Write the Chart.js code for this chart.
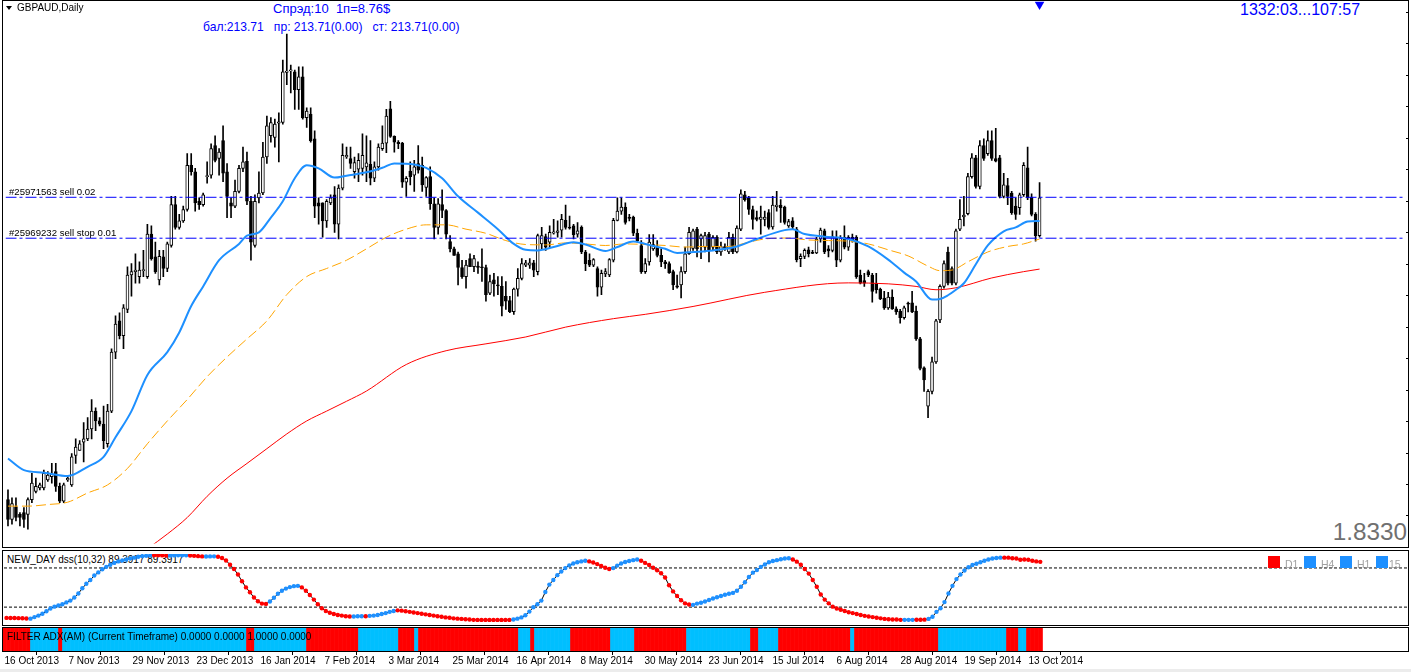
<!DOCTYPE html>
<html><head><meta charset="utf-8">
<script src="https://cdn.jsdelivr.net/npm/chart.js@4.4.1/dist/chart.umd.min.js"></script>
<style>
html,body{margin:0;padding:0;background:#fff;}
#wrap{position:relative;width:1411px;height:672px;overflow:hidden;background:#fff;font-family:"Liberation Sans",Arial,sans-serif;}
canvas{position:absolute;left:0;}
.t{position:absolute;white-space:pre;line-height:1;}
.b{z-index:0}.f{z-index:2}
.sq{position:absolute;width:12px;height:12px;z-index:2}
</style></head><body>
<div id="wrap">
  <div class="t b" style="left:273px;top:1.7px;font-size:13px;color:#0000ff">Спрэд:10  1п=8.76$</div>
  <div class="t b" style="left:203px;top:21.4px;font-size:12.1px;color:#0000ff">бал:213.71   пр: 213.71(0.00)   ст: 213.71(0.00)</div>
  <div class="t b" style="left:1240px;top:1.5px;font-size:16px;color:#0000ff">1332:03...107:57</div>
  <div class="t b" style="right:4px;top:520.4px;font-size:24.3px;color:#707070">1.8330</div>
  <div class="t b" style="left:7px;top:554.8px;font-size:10px;color:#000">NEW_DAY dss(10,32) 89.3917 89.3917</div>

  <canvas id="cMain" width="1411" height="549" style="top:0;z-index:1"></canvas>
  <canvas id="cDss" width="1411" height="76" style="top:550px;z-index:1"></canvas>
  <canvas id="cAdx" width="1411" height="46" style="top:626px;z-index:1"></canvas>

  <div style="position:absolute;left:6px;top:6px;width:0;height:0;border-left:3px solid transparent;border-right:3px solid transparent;border-top:4px solid #000;z-index:2"></div>
  <div class="t f" style="left:17px;top:2.8px;font-size:10px;color:#000">GBPAUD,Daily</div>
  <div class="t f" style="left:9px;top:186.6px;font-size:9.6px;color:#000">#25971563 sell 0.02</div>
  <div class="t f" style="left:9px;top:227.6px;font-size:9.6px;color:#000">#25969232 sell stop 0.01</div>
  <div class="t f" style="left:7px;top:631.5px;font-size:10px;color:#000">FILTER ADX(AM) (Current Timeframe) 0.0000 0.0000 1.0000 0.0000</div>
  <div class="sq" style="left:1268px;top:556px;background:#ff0000"></div>
  <div class="sq" style="left:1304px;top:556px;background:#1e90ff"></div>
  <div class="sq" style="left:1340px;top:556px;background:#1e90ff"></div>
  <div class="sq" style="left:1376px;top:556px;background:#1e90ff"></div>
  <div class="t f" style="left:1285px;top:559.4px;font-size:10.5px;color:#a0a0a0">D1</div>
  <div class="t f" style="left:1321px;top:559.4px;font-size:10.5px;color:#a0a0a0">H4</div>
  <div class="t f" style="left:1357px;top:559.4px;font-size:10.5px;color:#a0a0a0">H1</div>
  <div class="t f" style="left:1389px;top:559.4px;font-size:10.5px;color:#a0a0a0">15</div>
  <div style="position:absolute;left:0;top:669px;width:1411px;height:3px;background:#ececec;z-index:2"></div>
</div>
<script>
// ---------------- DATA (GBPAUD daily, 16 Oct 2013 .. 16 Oct 2014) ----------------
const tickIdx = [0,16,32,48,64,80,96,112,128,144,160,176,192,208,224,240,256];
const tickLabels = ['16 Oct 2013','7 Nov 2013','29 Nov 2013','23 Dec 2013','16 Jan 2014','7 Feb 2014','3 Mar 2014','25 Mar 2014','16 Apr 2014','8 May 2014','30 May 2014','23 Jun 2014','15 Jul 2014','6 Aug 2014','28 Aug 2014','19 Sep 2014','13 Oct 2014'];

const open = [
1.6883,1.6783,1.6847,1.6808,1.6817,1.6808,1.6883,1.6925,1.6942,1.6942,
1.6983,1.7000,1.7025,1.6950,1.6875,1.6983,1.6958,1.7108,1.7133,1.7175,
1.7192,1.7242,1.7333,1.7283,1.7267,1.7167,1.7333,1.7633,1.7792,1.7717,
1.7850,1.8025,1.8042,1.8017,1.8047,1.8017,1.8233,1.8117,1.8000,1.8117,
1.8058,1.8175,1.8383,1.8267,1.8300,1.8358,1.8583,1.8550,1.8400,1.8383,
1.8525,1.8533,1.8683,1.8617,1.8708,1.8550,1.8392,1.8375,1.8450,1.8567,
1.8603,1.8400,1.8175,1.8417,1.8442,1.8625,1.8733,1.8725,1.8797,1.8800,
1.9055,1.9063,1.9058,1.8967,1.9033,1.8825,1.8842,1.8717,1.8392,1.8392,
1.8300,1.8392,1.8433,1.8283,1.8467,1.8625,1.8617,1.8550,1.8563,1.8567,
1.8575,1.8587,1.8517,1.8575,1.8667,1.8695,1.8870,1.8730,1.8700,1.8695,
1.8497,1.8553,1.8533,1.8592,1.8583,1.8470,1.8525,1.8387,1.8267,1.8383,
1.8353,1.8195,1.8158,1.8133,1.8063,1.8017,1.8108,1.8067,1.8070,1.8067,
1.8063,1.7933,1.8000,1.7975,1.7967,1.7917,1.7895,1.7838,1.7953,1.8008,
1.8075,1.8075,1.8087,1.8042,1.8183,1.8220,1.8192,1.8238,1.8242,1.8253,
1.8303,1.8267,1.8275,1.8233,1.8267,1.8142,1.8100,1.8075,1.8058,1.7963,
1.8030,1.8025,1.8100,1.8303,1.8350,1.8370,1.8317,1.8320,1.8237,1.8175,
1.8042,1.8092,1.8158,1.8167,1.8125,1.8092,1.8083,1.8042,1.7970,1.7975,
1.8042,1.8133,1.8160,1.8258,1.8208,1.8167,1.8233,1.8167,1.8217,1.8142,
1.8170,1.8142,1.8217,1.8142,1.8258,1.8433,1.8417,1.8358,1.8317,1.8308,
1.8308,1.8342,1.8270,1.8372,1.8380,1.8370,1.8275,1.8300,1.8258,1.8108,
1.8120,1.8153,1.8137,1.8137,1.8208,1.8250,1.8158,1.8150,1.8217,1.8100,
1.8217,1.8167,1.8217,1.8217,1.8025,1.7997,1.8042,1.8025,1.7983,1.7953,
1.7908,1.7858,1.7913,1.7853,1.7842,1.7808,1.7880,1.7883,1.7842,1.7700,
1.7553,1.7358,1.7433,1.7583,1.7797,1.7967,1.8142,1.8058,1.7983,1.8258,
1.8320,1.8337,1.8525,1.8620,1.8475,1.8683,1.8642,1.8708,1.8617,1.8620,
1.8425,1.8480,1.8442,1.8375,1.8367,1.8433,1.8570,1.8420,1.8333,1.8225];

const high = [
1.6933,1.6892,1.6892,1.6817,1.6842,1.6892,1.7017,1.6992,1.6967,1.7033,
1.7025,1.7067,1.7067,1.6967,1.6967,1.7000,1.7117,1.7192,1.7183,1.7275,
1.7300,1.7392,1.7350,1.7300,1.7358,1.7367,1.7650,1.7817,1.7833,1.7875,
1.8067,1.8083,1.8133,1.8092,1.8150,1.8283,1.8275,1.8192,1.8150,1.8150,
1.8192,1.8425,1.8425,1.8333,1.8375,1.8642,1.8642,1.8567,1.8417,1.8442,
1.8600,1.8692,1.8733,1.8667,1.8783,1.8592,1.8417,1.8508,1.8583,1.8675,
1.8650,1.8425,1.8433,1.8550,1.8700,1.8833,1.8825,1.8817,1.8850,1.9117,
1.9250,1.9092,1.9067,1.9083,1.9083,1.8875,1.8875,1.8758,1.8417,1.8392,
1.8408,1.8433,1.8475,1.8483,1.8692,1.8675,1.8675,1.8625,1.8642,1.8742,
1.8733,1.8708,1.8600,1.8692,1.8783,1.8867,1.8908,1.8733,1.8708,1.8700,
1.8525,1.8600,1.8608,1.8683,1.8625,1.8525,1.8575,1.8417,1.8413,1.8458,
1.8358,1.8225,1.8167,1.8142,1.8100,1.8100,1.8133,1.8125,1.8092,1.8158,
1.8075,1.8025,1.8033,1.8017,1.8017,1.7992,1.7917,1.7958,1.8058,1.8108,
1.8100,1.8108,1.8100,1.8233,1.8267,1.8233,1.8275,1.8308,1.8300,1.8333,
1.8380,1.8325,1.8283,1.8292,1.8275,1.8150,1.8133,1.8108,1.8067,1.8050,
1.8058,1.8108,1.8313,1.8417,1.8417,1.8392,1.8333,1.8325,1.8258,1.8200,
1.8108,1.8230,1.8230,1.8200,1.8158,1.8100,1.8092,1.8050,1.8025,1.8067,
1.8167,1.8267,1.8258,1.8267,1.8233,1.8242,1.8242,1.8225,1.8225,1.8192,
1.8183,1.8242,1.8233,1.8275,1.8458,1.8450,1.8425,1.8375,1.8350,1.8375,
1.8350,1.8358,1.8425,1.8450,1.8408,1.8375,1.8308,1.8317,1.8267,1.8133,
1.8158,1.8167,1.8150,1.8217,1.8263,1.8258,1.8175,1.8250,1.8250,1.8225,
1.8275,1.8225,1.8233,1.8225,1.8050,1.8033,1.8050,1.8033,1.8033,1.7958,
1.7942,1.7937,1.7950,1.7863,1.7850,1.7867,1.7887,1.7942,1.7867,1.7708,
1.7558,1.7442,1.7608,1.7800,1.7975,1.8097,1.8167,1.8067,1.8258,1.8408,
1.8425,1.8542,1.8642,1.8633,1.8708,1.8717,1.8758,1.8758,1.8770,1.8633,
1.8542,1.8517,1.8450,1.8417,1.8442,1.8597,1.8675,1.8437,1.8342,1.8495];

const low = [
1.6750,1.6758,1.6775,1.6750,1.6742,1.6733,1.6867,1.6917,1.6933,1.6933,
1.6975,1.6967,1.6925,1.6867,1.6867,1.6975,1.6950,1.7067,1.7133,1.7075,
1.7183,1.7192,1.7233,1.7258,1.7142,1.7150,1.7325,1.7600,1.7700,1.7650,
1.7833,1.7917,1.7983,1.7983,1.8017,1.8008,1.8100,1.8033,1.7975,1.8017,
1.8042,1.8167,1.8258,1.8258,1.8292,1.8350,1.8533,1.8350,1.8358,1.8375,
1.8492,1.8517,1.8600,1.8533,1.8500,1.8317,1.8317,1.8367,1.8442,1.8550,
1.8383,1.8100,1.8167,1.8392,1.8433,1.8592,1.8700,1.8675,1.8600,1.8792,
1.8992,1.8950,1.8867,1.8867,1.8817,1.8775,1.8700,1.8317,1.8283,1.8217,
1.8267,1.8383,1.8242,1.8208,1.8458,1.8617,1.8567,1.8517,1.8500,1.8533,
1.8500,1.8483,1.8500,1.8558,1.8658,1.8647,1.8725,1.8650,1.8667,1.8470,
1.8425,1.8483,1.8450,1.8542,1.8450,1.8425,1.8358,1.8208,1.8233,1.8317,
1.8208,1.8142,1.8125,1.7975,1.8008,1.7958,1.8067,1.8042,1.8033,1.7992,
1.7892,1.7925,1.7917,1.7925,1.7817,1.7850,1.7833,1.7825,1.7917,1.8000,
1.8067,1.8058,1.8017,1.8025,1.8158,1.8150,1.8167,1.8233,1.8217,1.8217,
1.8258,1.8258,1.8208,1.8217,1.8133,1.8047,1.8067,1.8067,1.7917,1.7925,
1.8017,1.8017,1.8092,1.8300,1.8333,1.8283,1.8300,1.8225,1.8192,1.8033,
1.8033,1.8075,1.8150,1.8117,1.8067,1.8058,1.8033,1.7950,1.7958,1.7908,
1.8033,1.8130,1.8150,1.8117,1.8108,1.8142,1.8092,1.8150,1.8133,1.8125,
1.8150,1.8133,1.8133,1.8137,1.8250,1.8400,1.8333,1.8258,1.8300,1.8233,
1.8275,1.8258,1.8258,1.8350,1.8292,1.8283,1.8267,1.8258,1.8092,1.8067,
1.8108,1.8117,1.8133,1.8133,1.8192,1.8133,1.8117,1.8142,1.8067,1.8092,
1.8158,1.8150,1.8192,1.8008,1.7980,1.7967,1.8017,1.7887,1.7933,1.7900,
1.7850,1.7850,1.7850,1.7825,1.7780,1.7800,1.7837,1.7833,1.7692,1.7542,
1.7433,1.7300,1.7420,1.7575,1.7783,1.7958,1.7975,1.7975,1.7975,1.8250,
1.8275,1.8330,1.8517,1.8467,1.8463,1.8608,1.8633,1.8608,1.8600,1.8417,
1.8417,1.8383,1.8333,1.8308,1.8333,1.8425,1.8408,1.8325,1.8197,1.8217];

const close = [
1.6783,1.6863,1.6792,1.6792,1.6783,1.6883,1.6967,1.6950,1.6958,1.7017,
1.7008,1.7013,1.6950,1.6875,1.6958,1.6992,1.7100,1.7150,1.7167,1.7192,
1.7242,1.7333,1.7283,1.7267,1.7183,1.7333,1.7633,1.7775,1.7717,1.7858,
1.8025,1.8042,1.8050,1.8050,1.8053,1.8233,1.8108,1.8042,1.8120,1.8058,
1.8183,1.8383,1.8267,1.8300,1.8358,1.8583,1.8550,1.8392,1.8383,1.8433,
1.8530,1.8667,1.8608,1.8650,1.8542,1.8425,1.8375,1.8450,1.8567,1.8600,
1.8400,1.8192,1.8400,1.8442,1.8625,1.8783,1.8800,1.8792,1.8803,1.9058,
1.9062,1.9067,1.8967,1.9033,1.8825,1.8858,1.8708,1.8375,1.8375,1.8300,
1.8400,1.8417,1.8283,1.8467,1.8633,1.8633,1.8592,1.8597,1.8608,1.8633,
1.8595,1.8517,1.8575,1.8675,1.8695,1.8833,1.8730,1.8700,1.8692,1.8497,
1.8517,1.8525,1.8575,1.8558,1.8483,1.8520,1.8387,1.8267,1.8387,1.8353,
1.8233,1.8158,1.8125,1.8063,1.8017,1.8075,1.8067,1.8108,1.8063,1.8062,
1.7925,1.7992,1.7980,1.7970,1.7867,1.7892,1.7838,1.7953,1.8008,1.8083,
1.8087,1.8087,1.8050,1.8225,1.8225,1.8167,1.8242,1.8245,1.8250,1.8308,
1.8267,1.8263,1.8230,1.8250,1.8142,1.8083,1.8075,1.8103,1.7963,1.8033,
1.8042,1.8103,1.8303,1.8350,1.8370,1.8292,1.8313,1.8237,1.8200,1.8042,
1.8083,1.8192,1.8180,1.8125,1.8092,1.8083,1.8037,1.7975,1.7963,1.8042,
1.8133,1.8242,1.8250,1.8158,1.8225,1.8225,1.8150,1.8217,1.8142,1.8170,
1.8158,1.8217,1.8142,1.8263,1.8438,1.8408,1.8358,1.8308,1.8308,1.8320,
1.8320,1.8267,1.8380,1.8380,1.8367,1.8292,1.8297,1.8270,1.8103,1.8120,
1.8150,1.8133,1.8135,1.8208,1.8253,1.8142,1.8147,1.8220,1.8100,1.8217,
1.8167,1.8217,1.8200,1.8017,1.7983,1.7983,1.8025,1.7942,1.7950,1.7903,
1.7858,1.7913,1.7853,1.7837,1.7808,1.7858,1.7877,1.7837,1.7700,1.7550,
1.7492,1.7433,1.7583,1.7792,1.7967,1.8083,1.7983,1.7983,1.8250,1.8308,
1.8330,1.8525,1.8620,1.8475,1.8683,1.8617,1.8708,1.8617,1.8603,1.8425,
1.8483,1.8425,1.8342,1.8333,1.8433,1.8583,1.8417,1.8333,1.8225,1.8417];

// moving averages read at sample bars: [bar index, price]
const maFast = [[0,1.7092],[4,1.7033],[9,1.7020],[15,1.7003],[20,1.7050],[24,1.7100],[27,1.7200],[31,1.7333],[35,1.7517],[40,1.7633],[43,1.7733],[46,1.7867],[49,1.7967],[53,1.8100],[58,1.8183],[60,1.8225],[63,1.8242],[66,1.8317],[69,1.8400],[72,1.8517],[75,1.8583],[78,1.8567],[82,1.8520],[85,1.8530],[90,1.8547],[94,1.8570],[97,1.8592],[102,1.8587],[105,1.8570],[109,1.8517],[113,1.8425],[118,1.8342],[123,1.8258],[127,1.8183],[130,1.8153],[133,1.8150],[137,1.8167],[142,1.8192],[145,1.8180],[150,1.8147],[153,1.8167],[157,1.8195],[160,1.8183],[165,1.8158],[168,1.8137],[172,1.8142],[177,1.8150],[183,1.8170],[188,1.8208],[195,1.8253],[197,1.8257],[200,1.8233],[205,1.8220],[211,1.8208],[216,1.8170],[221,1.8103],[225,1.8037],[228,1.7992],[232,1.7900],[234,1.7903],[236,1.7922],[238,1.7950],[240,1.7983],[243,1.8080],[246,1.8175],[250,1.8247],[253,1.8267],[256,1.8297],[259,1.8300]];
const maMid = [[0,1.6850],[5,1.6850],[10,1.6858],[15,1.6870],[20,1.6917],[25,1.6958],[30,1.7042],[35,1.7167],[40,1.7283],[45,1.7392],[50,1.7508],[55,1.7608],[60,1.7700],[65,1.7792],[70,1.7925],[75,1.8017],[80,1.8058],[85,1.8100],[90,1.8158],[95,1.8217],[100,1.8258],[105,1.8280],[110,1.8280],[115,1.8258],[120,1.8237],[125,1.8200],[130,1.8180],[135,1.8178],[140,1.8188],[145,1.8183],[150,1.8175],[155,1.8183],[160,1.8180],[165,1.8175],[170,1.8167],[175,1.8170],[181,1.8170],[186,1.8192],[190,1.8208],[196,1.8213],[201,1.8203],[206,1.8200],[211,1.8197],[216,1.8183],[221,1.8153],[226,1.8122],[231,1.8070],[234,1.8047],[237,1.8050],[241,1.8092],[246,1.8142],[251,1.8170],[255,1.8183],[259,1.8208]];
const maSlow = [[35,1.6633],[40,1.6708],[45,1.6792],[50,1.6900],[55,1.6992],[60,1.7067],[65,1.7142],[70,1.7217],[75,1.7283],[80,1.7333],[85,1.7383],[90,1.7435],[100,1.7570],[110,1.7640],[120,1.7675],[130,1.7710],[140,1.7760],[152,1.7803],[160,1.7825],[172,1.7865],[190,1.7937],[211,1.7985],[221,1.7980],[228,1.7967],[233,1.7950],[238,1.7960],[247,1.8010],[255,1.8042],[259,1.8055]];

const orderLevels = [1.8420, 1.8212];
const markerBar = 259, markerPrice = 1.9400;

// DSS(10,32) oscillator, one value per bar
const dss = [
3.5,3.3,3.2,3.1,3.0,2.6,2.3,4.7,7.0,9.9,
13.6,17.8,20.7,22.5,24.4,27.2,30.0,34.7,40.8,48.8,
55.9,61.5,68.5,73.2,78.0,81.7,85.0,87.8,90.1,91.5,
93.0,94.4,95.8,97.2,98.1,98.6,99.1,99.5,99.5,99.3,
99.0,99.1,99.3,99.5,99.5,99.6,99.1,98.6,98.1,97.7,
97.5,97.7,97.8,97.2,95.3,91.5,85.0,78.4,70.0,59.6,
50.2,42.7,34.7,29.1,25.4,24.9,28.6,34.3,40.4,45.1,
48.4,50.7,52.1,52.6,50.2,45.1,38.5,31.5,24.4,18.3,
14.1,11.3,9.4,8.0,7.0,6.1,5.6,5.6,6.1,6.1,
6.1,6.6,7.0,8.0,9.4,10.8,12.7,14.1,15.0,14.6,
13.6,12.7,11.7,10.8,9.9,8.9,8.0,7.0,6.1,5.2,
4.2,3.8,2.8,2.3,1.9,1.4,0.9,0.5,0.4,0.3,
0.3,0.2,0.2,0.2,0.2,0.3,0.3,0.9,2.3,4.2,
7.5,13.1,19.7,24.4,30.0,43.2,54.5,61.5,69.0,74.6,
79.8,84.0,86.9,88.7,90.1,91.1,90.1,88.3,85.9,83.1,
80.3,78.4,79.8,83.6,86.9,89.2,90.6,92.0,93.0,91.1,
87.8,84.5,80.3,76.5,71.8,65.3,53.5,44.1,37.1,30.5,
25.8,23.9,23.5,25.4,26.8,28.6,31.0,33.3,35.2,37.1,
39.0,40.4,41.8,45.1,51.2,58.2,66.2,72.8,77.0,81.7,
85.4,88.7,90.6,92.0,93.4,94.4,94.8,93.0,89.7,85.0,
78.4,71.4,61.5,51.2,39.4,31.5,25.8,20.7,17.8,16.0,
14.1,12.2,10.8,9.4,8.0,6.6,5.6,4.7,3.8,2.8,
1.9,1.4,0.9,0.9,0.5,0.5,0.5,0.5,0.6,0.6,
0.8,1.9,5.2,12.7,18.3,27.7,40.8,52.6,62.9,70.0,
76.1,81.2,84.5,86.4,88.7,91.1,93.0,94.4,95.3,95.8,
95.8,95.8,94.8,94.4,92.5,93.0,92.5,91.1,90.1,89.39];
const dssLevels = [80, 20];
// DSS direction per bar: R = falling, B = rising
const dssDir =
 'RRRRRR' + 'BBBBBBBBBBBBBBBBBBBBBBBBBBBBBBB' + 'RRRR' + 'BBBBB' + 'RRRR' + 'BBB' +
 'RRRRRRRRRRRRR' + 'BBBBBBBB' + 'RRRRRRRRRRRRR' + 'BBB' + 'R' + 'BBBBBBB' +
 'RRRRRRRRRRRRRRRRRRRRRRRRRRRRR' + 'BBBBBBBBBBBBBBBBBBB' + 'RRRRRR' + 'BBBBBBB' +
 'RRRRRRRRRRRRR' + 'BBBBBBBBBBBBBBBBBBBBBBBBB' + 'RRRRRRRRRRRRRRRRRRRRRRRRRRRR' +
 'BBB' + 'RRR' + 'BBBBBBBBBBBBBBBBBBB' + 'RRRRRRRRRR';
// FILTER ADX state per bar: R / B
const adxState =
 'RRRRRRR' + 'BBBBBBB' + 'R' + 'BBBBBBBBBB'+'BBBBBBBBBB'+'BBBBBBBBBB'+'BBBBBBBBBB'+'BBBBBB' + 'RR' +
 'BBBBBBBBBBBBB' + 'RRRRRRRRRRRRR' + 'BBBBBBBBBB' + 'RRRR' + 'B' + 'RRRRRRRRRRRRRRRRRRRRRRRRR' +
 'BBB' + 'R' + 'BBBBBBBBB' + 'RRRRRRRRRR' + 'BBBBBB' + 'RRRRRRRRRRRRR' + 'BBBBBBBBBBBBBBBB' +
 'RR' + 'BBBBB' + 'RRRRRRRRRRRRRRRRRR' + 'B' + 'RRRRRRRRRRRRRRRRRRRRR' + 'BBBBBBBBBBBBBBBBB' +
 'RRR' + 'BB' + 'RRRR';

// ---------------- CHARTS ----------------
Chart.defaults.font.family = '"Liberation Sans", Arial, sans-serif';
const X_MIN = -0.625, X_MAX = 350.875;
const idx = open.map((_, i) => i);

const framePlugin = {
  id: 'frame',
  afterDraw(chart, args, opts) {
    const c = chart.ctx; c.save(); c.strokeStyle = '#000'; c.lineWidth = 1;
    (opts.rects || []).forEach(r => c.strokeRect(r[0] + 0.5, r[1] + 0.5, r[2] - r[0], r[3] - r[1]));
    c.restore();
  }
};
const common = { responsive: false, animation: false, events: [], devicePixelRatio: 1 };
const hLine = (y, color, dash) => ({ type: 'line', data: [{x: X_MIN, y}, {x: X_MAX, y}], borderColor: color, borderWidth: 1, borderDash: dash, pointRadius: 0 });

new Chart(document.getElementById('cMain'), {
  type: 'bar',
  data: { datasets: [
    Object.assign(hLine(orderLevels[0], '#0000ff', [11,3,3,3]), {order: 0}),
    Object.assign(hLine(orderLevels[1], '#0000ff', [11,3,3,3]), {order: 0}),
    { type: 'line', data: [{x: markerBar, y: markerPrice}], showLine: false, pointStyle: 'triangle', rotation: 180, pointRadius: 5.5, pointBackgroundColor: '#0000ff', pointBorderWidth: 0, clip: false, order: 0 },
    { type: 'line', data: maFast.map(([x, y]) => ({x, y})), borderColor: '#1e90ff', borderWidth: 2, pointRadius: 0, cubicInterpolationMode: 'monotone', order: 1 },
    { type: 'line', data: maMid.map(([x, y]) => ({x, y})), borderColor: '#ffa500', borderWidth: 1, borderDash: [10,4], pointRadius: 0, cubicInterpolationMode: 'monotone', order: 2 },
    { type: 'line', data: maSlow.map(([x, y]) => ({x, y})), borderColor: '#ff0000', borderWidth: 1, pointRadius: 0, cubicInterpolationMode: 'monotone', order: 3 },
    { type: 'bar', data: idx.map(i => ({x: i, y: [open[i], close[i]]})),
      backgroundColor: idx.map(i => close[i] >= open[i] ? '#ffffff' : '#000000'),
      borderColor: '#000', borderWidth: 1, borderSkipped: false, barThickness: 3, maxBarThickness: 3, minBarLength: 1, grouped: false, order: 4 },
    { type: 'bar', data: idx.map(i => ({x: i, y: [low[i], high[i]]})),
      backgroundColor: '#000', borderWidth: 0, barThickness: 1, maxBarThickness: 1, grouped: false, order: 5 }
  ]},
  options: Object.assign({}, common, {
    layout: { padding: { left: 2, top: 1, bottom: 1, right: 0 } },
    plugins: { legend: { display: false }, tooltip: { enabled: false }, frame: { rects: [[2, 0, 1408, 547]] } },
    scales: {
      x: { type: 'linear', display: false, min: X_MIN, max: X_MAX, offset: false },
      y: { type: 'linear', position: 'right', min: 1.666, max: 1.9395, afterFit(s) { s.width = 3; },
           ticks: { display: false, stepSize: 0.016, includeBounds: false },
           grid: { drawOnChartArea: false, drawTicks: true, tickLength: 3, color: '#000' }, border: { display: false } }
    }
  }),
  plugins: [framePlugin]
});

new Chart(document.getElementById('cDss'), {
  type: 'line',
  data: { datasets: [
    { data: dss.map((v, i) => ({x: i, y: v})), borderColor: '#000', borderWidth: 1, pointRadius: 2.2,
      pointBackgroundColor: dss.map((_, i) => dssDir[i] === 'R' ? '#ff0000' : '#1e90ff'), pointBorderWidth: 0, order: 0 },
    Object.assign(hLine(dssLevels[0], '#000', [3,2]), {order: 1}),
    Object.assign(hLine(dssLevels[1], '#000', [3,2]), {order: 1})
  ]},
  options: Object.assign({}, common, {
    layout: { padding: { left: 2, right: 3, top: 1, bottom: 1 } },
    plugins: { legend: { display: false }, tooltip: { enabled: false }, frame: { rects: [[2, 0, 1408, 75]] } },
    scales: {
      x: { type: 'linear', display: false, min: X_MIN, max: X_MAX, offset: false },
      y: { display: false, min: -2.82, max: 101.41 }
    }
  }),
  plugins: [framePlugin]
});

new Chart(document.getElementById('cAdx'), {
  type: 'bar',
  data: { datasets: [
    { data: idx.map(i => ({x: i, y: [0, 1]})),
      backgroundColor: idx.map(i => adxState[i] === 'R' ? '#ff0000' : '#00bfff'),
      borderWidth: 0, barThickness: 4, maxBarThickness: 4, grouped: false }
  ]},
  options: Object.assign({}, common, {
    layout: { padding: { left: 2, right: 3, top: 1, bottom: 0 } },
    plugins: { legend: { display: false }, tooltip: { enabled: false }, frame: { rects: [[2, 1, 1408, 25]] } },
    scales: {
      x: { type: 'linear', display: true, position: 'bottom', min: X_MIN, max: X_MAX, offset: false,
           afterFit(s) { s.height = 21; },
           afterBuildTicks(s) { s.ticks = tickIdx.map(v => ({value: v})); },
           ticks: { autoSkip: false, maxRotation: 0, minRotation: 0, align: 'start', padding: 0, color: '#000',
                    font: { size: 10 }, callback: (v) => { const k = tickIdx.indexOf(v); return k >= 0 ? tickLabels[k] : ''; } },
           grid: { drawOnChartArea: false, drawTicks: true, tickLength: 4, color: '#000' }, border: { display: false } },
      y: { display: false, min: 0, max: 1 }
    }
  }),
  plugins: [framePlugin]
});
</script>
</body></html>
